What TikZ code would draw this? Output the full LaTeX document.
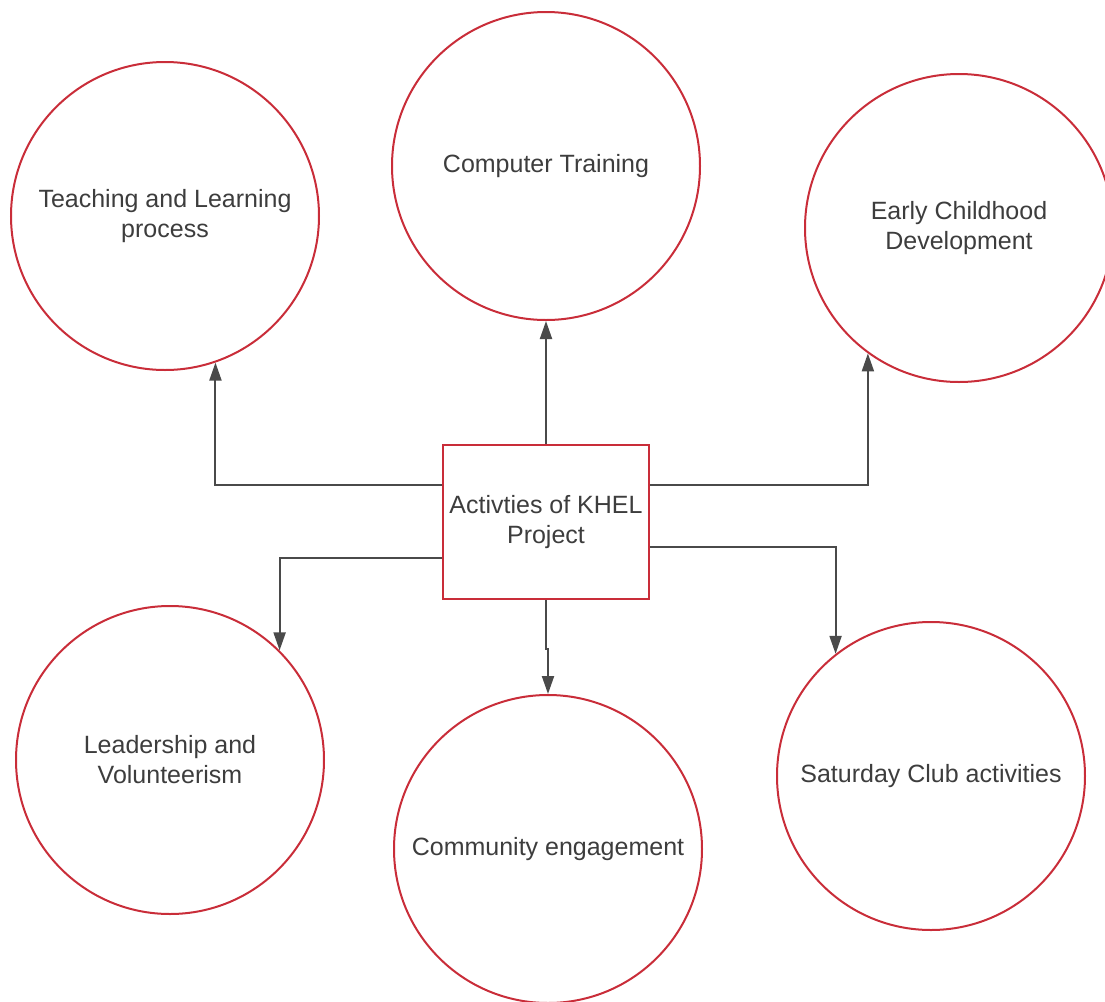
\documentclass[tikz,border=0pt]{standalone}
\usepackage{fontspec}
\setmainfont{Liberation Sans}
\usetikzlibrary{arrows.meta}
\definecolor{khelred}{HTML}{C92D39}
\definecolor{linegray}{HTML}{4A4A4A}
\definecolor{textgray}{HTML}{3D3D3D}

\begin{document}
\begin{tikzpicture}[x=0.5pt,y=-0.5pt,
  act/.style={circle,draw=khelred,line width=1pt,minimum size=154pt,inner sep=0pt,
    align=center,text=textgray,font=\fontsize{12.5}{15}\selectfont},
  hub/.style={rectangle,draw=khelred,line width=1pt,minimum width=103pt,minimum height=77pt,
    inner sep=0pt,align=center,text=textgray,font=\fontsize{12.5}{15}\selectfont},
  link/.style={draw=linegray,line width=1pt,-{Triangle[length=9pt,width=6pt]}}]
\useasboundingbox (0,0) rectangle (1105,1002);
% centre box
\node[hub] (box) at (546,522) {Activties of KHEL\\Project};
% activities
\foreach \nm/\x/\y/\txt in {teach/165/216/{Teaching and Learning\\process},
    comp/546/166/{Computer Training},
    early/959/228/{Early Childhood\\Development},
    lead/170/760/{Leadership and\\Volunteerism},
    comm/548/849/{Community engagement},
    sat/931/776/{Saturday Club activities}}
  \node[act] (\nm) at (\x,\y) {\txt};
% connectors, upper row
\draw[link] ([yshift=18.5pt]box.west) -| (teach.-71);
\draw[link] (box.north) -- (comp.south);
\draw[link] ([yshift=18.5pt]box.east) -| (early.-126.5);
% connectors, lower row
\draw[link] ([yshift=-18pt]box.west) -| (lead.45);
\draw[link] (box.south) -- ++(0,49) -| (comm.north);
\draw[link] ([yshift=-12.5pt]box.east) -| (sat.128.3);
\end{tikzpicture}
\end{document}
